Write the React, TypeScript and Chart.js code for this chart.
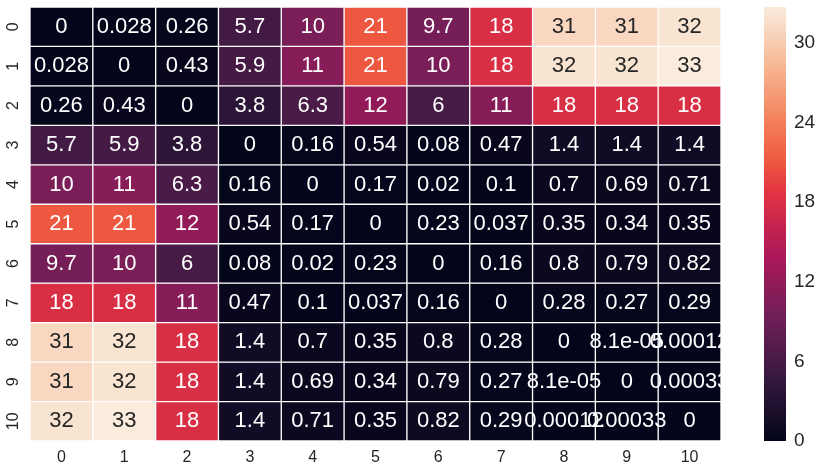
import React, { useEffect, useRef } from "react";
import { Chart, registerables } from "chart.js";

Chart.register(...registerables);

const colLabels = ["0", "1", "2", "3", "4", "5", "6", "7", "8", "9", "10"];
const rowLabels = ["0", "1", "2", "3", "4", "5", "6", "7", "8", "9", "10"];

const row0 = [0, 0.028, 0.26, 5.7, 10, 21, 9.7, 18, 31, 31, 32];
const row1 = [0.028, 0, 0.43, 5.9, 11, 21, 10, 18, 32, 32, 33];
const row2 = [0.26, 0.43, 0, 3.8, 6.3, 12, 6, 11, 18, 18, 18];
const row3 = [5.7, 5.9, 3.8, 0, 0.16, 0.54, 0.08, 0.47, 1.4, 1.4, 1.4];
const row4 = [10, 11, 6.3, 0.16, 0, 0.17, 0.02, 0.1, 0.7, 0.69, 0.71];
const row5 = [21, 21, 12, 0.54, 0.17, 0, 0.23, 0.037, 0.35, 0.34, 0.35];
const row6 = [9.7, 10, 6, 0.08, 0.02, 0.23, 0, 0.16, 0.8, 0.79, 0.82];
const row7 = [18, 18, 11, 0.47, 0.1, 0.037, 0.16, 0, 0.28, 0.27, 0.29];
const row8 = [31, 32, 18, 1.4, 0.7, 0.35, 0.8, 0.28, 0, 8.1e-5, 0.00012];
const row9 = [31, 32, 18, 1.4, 0.69, 0.34, 0.79, 0.27, 8.1e-5, 0, 0.00033];
const row10 = [32, 33, 18, 1.4, 0.71, 0.35, 0.82, 0.29, 0.00012, 0.00033, 0];

const rows = [row0, row1, row2, row3, row4, row5, row6, row7, row8, row9, row10];

const VMIN = 0;
const VMAX = 32.7;
const cbarTicks = [0, 6, 12, 18, 24, 30];

const FONT = "'Liberation Sans', Arial, sans-serif";
const DARK = "#262626";

// rocket colormap anchors
const ROCKET: [number, number[]][] = [
  [0, [3, 5, 26]],
  [1 / 7, [53, 25, 62]],
  [2 / 7, [112, 31, 87]],
  [3 / 7, [173, 23, 89]],
  [4 / 7, [225, 51, 66]],
  [0.643, [238, 88, 64]],
  [5 / 7, [243, 118, 81]],
  [6 / 7, [246, 180, 143]],
  [1, [250, 235, 221]],
];

function rocket(t: number): number[] {
  t = Math.max(0, Math.min(1, t));
  for (let i = 0; i < ROCKET.length - 1; i++) {
    const [t0, c0] = ROCKET[i];
    const [t1, c1] = ROCKET[i + 1];
    if (t <= t1) {
      const f = (t - t0) / (t1 - t0);
      return c0.map((c, k) => Math.round(c + (c1[k] - c) * f));
    }
  }
  return ROCKET[ROCKET.length - 1][1];
}

function css(rgb: number[]) {
  return `rgb(${rgb[0]},${rgb[1]},${rgb[2]})`;
}

function colorFor(v: number) {
  return rocket((v - VMIN) / (VMAX - VMIN));
}

function luminance(rgb: number[]) {
  const lin = rgb.map((c) => {
    const s = c / 255;
    return s <= 0.03928 ? s / 12.92 : Math.pow((s + 0.055) / 1.055, 2.4);
  });
  return 0.2126 * lin[0] + 0.7152 * lin[1] + 0.0722 * lin[2];
}

function fmtG(v: number) {
  if (v === 0) return "0";
  const e = Math.floor(Math.log10(Math.abs(v)));
  if (e < -4 || e >= 2) {
    let s = v.toExponential(1);
    s = s.replace(/\.0+e/, "e");
    s = s.replace(/e([+-])(\d)$/, "e$10$2");
    return s;
  }
  let s = v.toPrecision(2);
  if (s.includes(".")) s = s.replace(/0+$/, "").replace(/\.$/, "");
  return s;
}

const labelPlugin = {
  id: "cellLabels",
  afterDatasetsDraw(chart: any) {
    const ctx = chart.ctx;
    ctx.save();
    ctx.font = `22px ${FONT}`;
    ctx.textAlign = "center";
    ctx.textBaseline = "middle";
    rows.forEach((r, i) => {
      const meta = chart.getDatasetMeta(i);
      meta.data.forEach((el: any, j: number) => {
        const p = el.getCenterPoint();
        const col = colorFor(r[j]);
        ctx.fillStyle = luminance(col) > 0.408 ? DARK : "#ffffff";
        ctx.fillText(fmtG(r[j]), p.x, p.y);
      });
    });
    ctx.restore();
  },
};

function zeroPad(s: any) {
  s.paddingTop = 0;
  s.paddingBottom = 0;
  s.paddingLeft = 0;
  s.paddingRight = 0;
}

export default function App() {
  const heatRef = useRef<HTMLCanvasElement>(null);
  const cbarRef = useRef<HTMLCanvasElement>(null);

  useEffect(() => {
    const heat = new Chart(heatRef.current as HTMLCanvasElement, {
      type: "bar",
      data: {
        labels: colLabels,
        datasets: rows.map((r, i) => ({
          label: rowLabels[i],
          data: r.map(() => [i, i + 1]),
          backgroundColor: r.map((v) => css(colorFor(v))),
          borderColor: "#ffffff",
          borderWidth: 1,
          borderSkipped: false,
          grouped: false,
          barPercentage: 1,
          categoryPercentage: 1,
        })) as any,
      },
      options: {
        responsive: false,
        animation: false,
        events: [],
        layout: { padding: { top: 7, right: 100, left: 0, bottom: 0 } },
        plugins: { legend: { display: false }, tooltip: { enabled: false } },
        scales: {
          x: {
            type: "category",
            grid: { display: false, drawTicks: false },
            border: { display: false },
            ticks: {
              font: { size: 16, family: FONT },
              color: DARK,
              padding: 7,
              maxRotation: 0,
              autoSkip: false,
            },
            afterFit: (s: any) => {
              s.height = 30;
              zeroPad(s);
            },
          },
          y: {
            type: "linear",
            reverse: true,
            min: 0,
            max: rowLabels.length,
            grid: { display: false, drawTicks: false },
            border: { display: false },
            afterBuildTicks: (s: any) => {
              s.ticks = rowLabels.map((_, i) => ({ value: i + 0.5 }));
            },
            ticks: {
              callback: (_v: any, i: number) => rowLabels[i],
              font: { size: 16, family: FONT },
              color: DARK,
              padding: 8,
              minRotation: 90,
              maxRotation: 90,
              crossAlign: "center",
              autoSkip: false,
            },
            afterFit: (s: any) => {
              s.width = 30;
              zeroPad(s);
            },
          },
        },
      } as any,
      plugins: [labelPlugin],
    });

    const cbar = new Chart(cbarRef.current as HTMLCanvasElement, {
      type: "bar",
      data: {
        labels: [""],
        datasets: [
          {
            data: [[VMIN, VMAX]] as any,
            backgroundColor: (c: any) => {
              const ch = c.chart;
              if (!ch.chartArea) return "#000";
              const ys = ch.scales.y;
              const g = ch.ctx.createLinearGradient(
                0,
                ys.getPixelForValue(VMIN),
                0,
                ys.getPixelForValue(VMAX)
              );
              for (let k = 0; k <= 70; k++) g.addColorStop(k / 70, css(rocket(k / 70)));
              return g;
            },
            borderWidth: 0,
            barPercentage: 1,
            categoryPercentage: 1,
          },
        ],
      },
      options: {
        responsive: false,
        animation: false,
        events: [],
        layout: { padding: { left: 764, top: 7, bottom: 30, right: 0 } },
        plugins: { legend: { display: false }, tooltip: { enabled: false } },
        scales: {
          x: { display: false },
          y: {
            position: "right",
            min: VMIN,
            max: VMAX,
            grid: { display: false, drawTicks: false },
            border: { display: false },
            afterBuildTicks: (s: any) => {
              s.ticks = cbarTicks.map((v) => ({ value: v }));
            },
            ticks: {
              font: { size: 19, family: FONT },
              color: DARK,
              padding: 8,
              autoSkip: false,
            },
            afterFit: (s: any) => {
              s.width = 35;
              zeroPad(s);
            },
          },
        },
      } as any,
    });

    return () => {
      heat.destroy();
      cbar.destroy();
    };
  }, []);

  return (
    <div style={{ position: "absolute", left: 0, top: 0, width: 821, height: 471, background: "#ffffff" }}>
      <canvas ref={heatRef} width={821} height={471} style={{ position: "absolute", left: 0, top: 0 }} />
      <canvas ref={cbarRef} width={821} height={471} style={{ position: "absolute", left: 0, top: 0 }} />
    </div>
  );
}
